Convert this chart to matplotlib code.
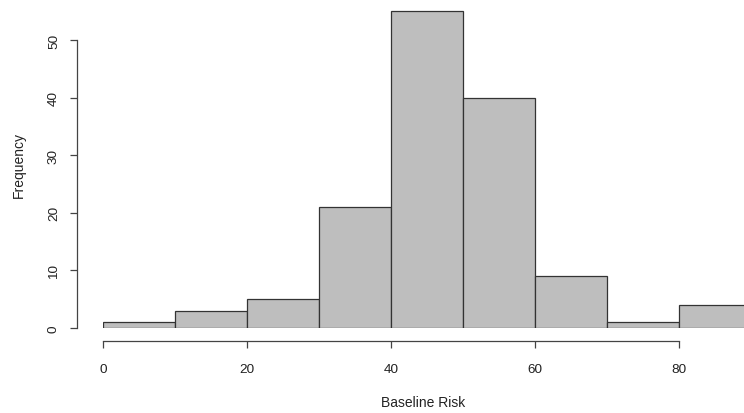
import matplotlib
matplotlib.use('Agg')
import matplotlib.pyplot as plt

bin_edges = [0, 10, 20, 30, 40, 50, 60, 70, 80]
counts = [1, 3, 5, 21, 55, 40, 9, 1, 4]
bin_width = 10
x_ticks = [0, 20, 40, 60, 80]
y_ticks = [0, 10, 20, 30, 40, 50]

plt.rcParams['font.family'] = ['Liberation Sans', 'DejaVu Sans']

fig = plt.figure(figsize=(7.44, 4.14), dpi=100)
# axes placed in pixels: x data 0 at px 103 (7.2 px/unit), y data 0 at px 329 from top (5.76 px/unit)
left = 103 / 744
bottom = 1 - 329 / 414
ax = fig.add_axes([left, bottom, 1 - left, 57 * 5.76 / 414])
ax.set_xlim(0, 641 / 7.2)
ax.set_ylim(0, 57)

ax.bar(bin_edges, counts, width=bin_width, align='edge',
       color='#bebebe', edgecolor='#333333', linewidth=0.9)

for s in ['top', 'right']:
    ax.spines[s].set_visible(False)
ax.spines['left'].set_position(('outward', 19))
ax.spines['bottom'].set_position(('outward', 9.5))
ax.spines['left'].set_bounds(0, 50)
ax.spines['bottom'].set_bounds(0, 80)
for s in ['left', 'bottom']:
    ax.spines[s].set_color('#444444')
    ax.spines[s].set_linewidth(0.9)

ax.set_xticks(x_ticks)
ax.set_yticks(y_ticks)
ax.tick_params(length=5, width=0.9, color='#444444', labelsize=9.7, labelcolor='#222222')
ax.tick_params(axis='x', pad=11)
ax.tick_params(axis='y', pad=7)
for lbl in ax.get_yticklabels():
    lbl.set_rotation(90)
    lbl.set_va('center')

ax.set_xlabel('Baseline Risk', fontsize=10, color='#222222', labelpad=14)
ax.set_ylabel('Frequency', fontsize=10, color='#222222', labelpad=16)

fig.savefig('out.png', dpi=100)
